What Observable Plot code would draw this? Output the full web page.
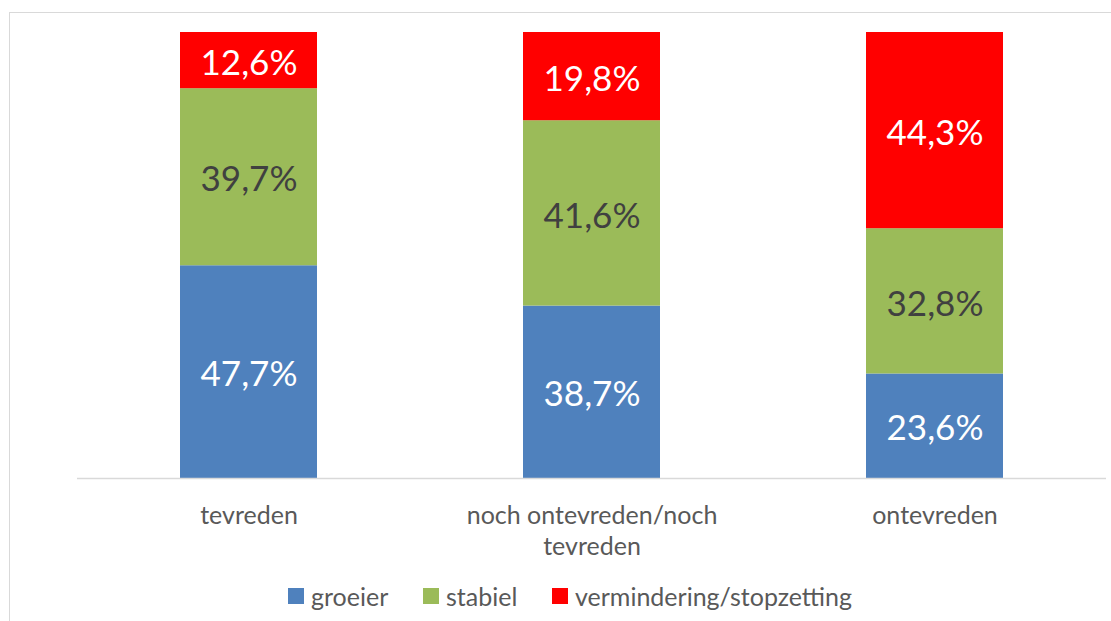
<!DOCTYPE html>
<html>
<head>
<meta charset="utf-8">
<script src="https://cdn.jsdelivr.net/npm/d3@7"></script>
<script src="https://cdn.jsdelivr.net/npm/@observablehq/plot@0.6"></script>
<style>
  html, body { margin: 0; padding: 0; background: #fff; overflow: hidden; width: 1111px; height: 621px; }
  #frame { position: absolute; left: 9px; top: 12px; width: 1120px; height: 640px; border: 1px solid #d9d9d9; box-sizing: border-box; }
  #chart { position: absolute; left: 0; top: 0; }
  #legend { position: absolute; left: 0; top: 581px; width: 1111px; height: 30px; font-family: Lato, sans-serif; font-size: 25px; color: #595959; }
  .item { position: absolute; top: 0; height: 30px; display: flex; align-items: center; white-space: nowrap; }
  .sw { width: 16px; height: 16px; margin-right: 7px; }
</style>
</head>
<body>
<div id="frame"></div>
<div id="chart"></div>
<div id="legend"></div>
<script>
const categories = ["tevreden", "noch ontevreden/noch tevreden", "ontevreden"];
const series = ["groeier", "stabiel", "vermindering/stopzetting"];
const groeier = [47.7, 38.7, 23.6];
const stabiel = [39.7, 41.6, 32.8];
const vermindering = [12.6, 19.8, 44.3];
const colors = ["#4f81bd", "#9bbb59", "#ff0000"];
const labelColors = ["#ffffff", "#404040", "#ffffff"];

const values = [groeier, stabiel, vermindering];
const data = series.flatMap((s, si) => categories.map((c, ci) => ({category: c, series: s, si, value: values[si][ci]})));

const fmt = v => v.toFixed(1).replace(".", ",") + "%";
const tickLabel = c => c === "noch ontevreden/noch tevreden" ? "noch ontevreden/noch\ntevreden" : c;

const chart = Plot.plot({
  width: 1111,
  height: 580,
  marginTop: 32,
  marginBottom: 102,
  marginLeft: 77,
  marginRight: 5,
  style: {fontFamily: "Lato, sans-serif", background: "transparent"},
  x: {domain: categories, paddingInner: 0.6, paddingOuter: 0.3, label: null},
  y: {domain: [0, 1], axis: null},
  color: {domain: series, range: colors},
  marks: [
    Plot.barY(data, Plot.stackY({offset: "normalize", order: series, x: "category", y: "value", z: "series", fill: "series"})),
    Plot.ruleY([0], {stroke: "#d9d9d9", strokeWidth: 1.5}),
    ...series.map((s, si) => Plot.text(data, Plot.stackY({
      offset: "normalize", order: series,
      x: "category", y: "value", z: "series",
      text: d => d.si === si ? fmt(d.value) : "", fill: labelColors[si], fontSize: 35, dy: 3
    }))),
    Plot.axisX({tickSize: 0, tickPadding: 23, fontSize: 25, fill: "#595959", lineHeight: 1.24, tickFormat: tickLabel, label: null})
  ]
});
document.getElementById("chart").appendChild(chart);

// Legend
const legend = document.getElementById("legend");
const lefts = [288, 423, 552];
series.forEach((s, i) => {
  const it = document.createElement("div");
  it.className = "item";
  it.style.left = lefts[i] + "px";
  const sw = document.createElement("div");
  sw.className = "sw";
  sw.style.background = colors[i];
  const t = document.createElement("span");
  t.textContent = s;
  it.appendChild(sw); it.appendChild(t);
  legend.appendChild(it);
});
</script>
</body>
</html>
